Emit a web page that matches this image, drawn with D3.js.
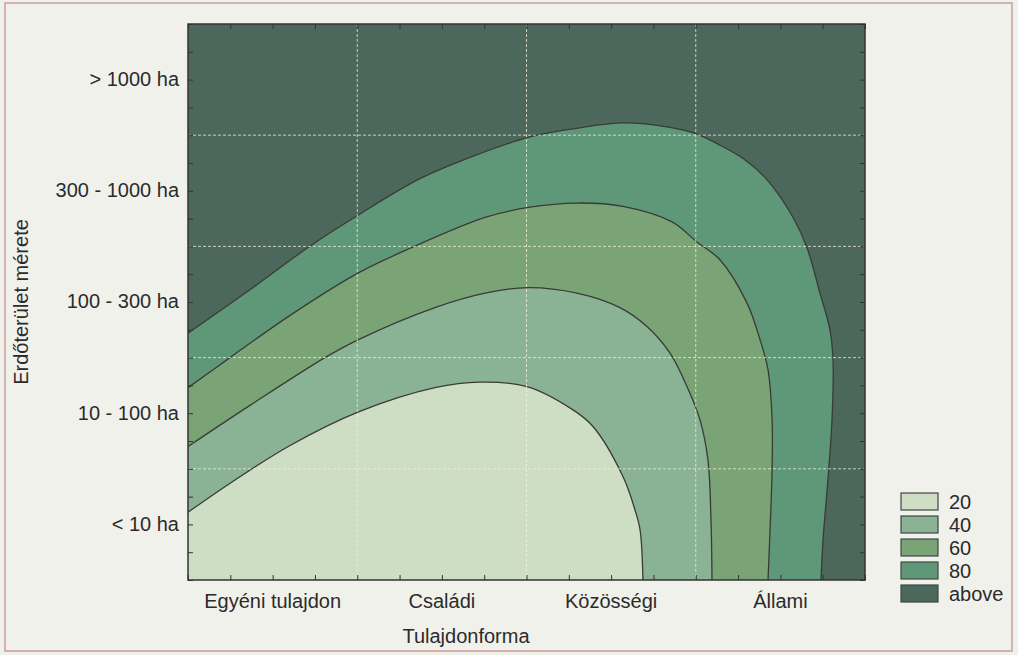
<!DOCTYPE html>
<html>
<head>
<meta charset="utf-8">
<script src="https://cdn.jsdelivr.net/npm/d3@7"></script>
<style>
  html, body { margin: 0; padding: 0; background: #f1f1ec; }
  svg { display: block; font-family: "Liberation Sans", Arial, sans-serif; }
</style>
</head>
<body>
<svg id="chart" width="1018" height="655"></svg>
<script>
// ---- data ----
const ownershipCategories = ["Egyéni tulajdon", "Családi", "Közösségi", "Állami"];
const sizeCategories = ["< 10 ha", "10 - 100 ha", "100 - 300 ha", "300 - 1000 ha", "> 1000 ha"];
const legendLabels = ["20", "40", "60", "80", "above"];
const contourLevels = [20, 40, 60, 80];

// contour lines, [ownership position (0..4), size position (0..5)]
const contour20 = [[0,0.61],[0.278,0.90],[0.603,1.21],[1.004,1.51],[1.459,1.73],[1.725,1.78],[2.003,1.74],[2.275,1.53],[2.393,1.38],[2.570,0.93],[2.641,0.63],[2.671,0.45],[2.688,0]];
const contour40 = [[0,1.20],[0.366,1.57],[0.809,2.00],[1.004,2.16],[1.459,2.45],[1.755,2.58],[2.009,2.63],[2.298,2.58],[2.552,2.45],[2.712,2.28],[2.848,2.04],[2.948,1.74],[3.025,1.44],[3.072,1.08],[3.090,0.54],[3.096,0]];
const contour60 = [[0,1.73],[0.248,2.00],[0.603,2.38],[1.004,2.76],[1.323,2.99],[1.755,3.26],[2.009,3.35],[2.298,3.39],[2.570,3.36],[2.860,3.22],[3.007,3.04],[3.143,2.88],[3.303,2.49],[3.380,2.16],[3.427,1.89],[3.451,1.44],[3.451,0.99],[3.439,0.45],[3.427,0]];
const contour80 = [[0,2.22],[0.366,2.61],[0.709,2.99],[1.004,3.28],[1.359,3.60],[1.666,3.80],[2.009,3.98],[2.287,4.06],[2.570,4.11],[2.848,4.07],[3.007,4.01],[3.143,3.91],[3.290,3.78],[3.421,3.60],[3.575,3.26],[3.657,2.99],[3.734,2.58],[3.793,2.25],[3.811,1.98],[3.805,1.44],[3.781,0.90],[3.752,0.36],[3.740,0]];

(function () {
// ---- layout ----
const svg = d3.select("#chart");
const W = 1018, H = 655;
const pL = 188, pR = 865, pT = 24, pB = 580;
const colors = ["#cddec5", "#8ab294", "#7aa376", "#5f9878", "#4c685c"];

const x = d3.scaleLinear().domain([0, 4]).range([pL, pR]);
const y = d3.scaleLinear().domain([0, 5]).range([pB, pT]);
const xBand = d3.scaleBand().domain(ownershipCategories).range([pL, pR]);
const yBand = d3.scaleBand().domain(sizeCategories).range([pB, pT]);

// page frame
svg.append("rect").attr("x", 0).attr("y", 0).attr("width", W).attr("height", H).attr("fill", "#f1f1ec");
svg.append("rect").attr("x", 5).attr("y", 3).attr("width", 1007).attr("height", 648)
  .attr("fill", "none").attr("stroke", "#c99d9d").attr("stroke-width", 1.5);

svg.append("clipPath").attr("id", "plotclip").append("rect")
  .attr("x", pL).attr("y", pT).attr("width", pR - pL).attr("height", pB - pT);

const plot = svg.append("g").attr("clip-path", "url(#plotclip)");
plot.append("rect").attr("x", pL).attr("y", pT).attr("width", pR - pL).attr("height", pB - pT)
  .attr("fill", colors[4]);

const line = d3.line().x(d => x(d[0])).y(d => y(d[1])).curve(d3.curveCatmullRom.alpha(0.5));
const contours = [contour80, contour60, contour40, contour20];
const fills = [colors[3], colors[2], colors[1], colors[0]];
contours.forEach((c, i) => {
  plot.append("path")
    .attr("d", line(c) + "L" + x(0) + "," + y(0) + "Z")
    .attr("fill", fills[i]);
});
contours.forEach(c => {
  plot.append("path").attr("d", line(c)).attr("fill", "none")
    .attr("stroke", "#3a3a36").attr("stroke-width", 1.3);
});

// grid lines at band boundaries
const gridX = d3.range(1, 4);
const gridY = d3.range(1, 5);
plot.selectAll(".gx").data(gridX).join("line")
  .attr("x1", d => x(d)).attr("x2", d => x(d)).attr("y1", pT).attr("y2", pB)
  .attr("stroke", "#f4f1d8").attr("stroke-opacity", 0.75).attr("stroke-width", 1).attr("stroke-dasharray", "3,2");
plot.selectAll(".gy").data(gridY).join("line")
  .attr("y1", d => y(d)).attr("y2", d => y(d)).attr("x1", pL).attr("x2", pR)
  .attr("stroke", "#f4f1d8").attr("stroke-opacity", 0.75).attr("stroke-width", 1).attr("stroke-dasharray", "3,2");

// minor ticks (inward) on all four sides
const tickStyle = g => { g.select(".domain").remove(); g.selectAll("line").attr("stroke", "#333").attr("stroke-width", 1); };
svg.append("g").attr("transform", `translate(0,${pB})`)
  .call(d3.axisBottom(x).tickValues(d3.range(0, 4.001, 0.25)).tickSize(-5).tickFormat("")).call(tickStyle);
svg.append("g").attr("transform", `translate(0,${pT})`)
  .call(d3.axisTop(x).tickValues(d3.range(0, 4.001, 0.25)).tickSize(-5).tickFormat("")).call(tickStyle);
svg.append("g").attr("transform", `translate(${pL},0)`)
  .call(d3.axisLeft(y).tickValues(d3.range(0, 5.001, 0.25)).tickSize(-5).tickFormat("")).call(tickStyle);
svg.append("g").attr("transform", `translate(${pR},0)`)
  .call(d3.axisRight(y).tickValues(d3.range(0, 5.001, 0.25)).tickSize(-5).tickFormat("")).call(tickStyle);

// category labels
const labStyle = g => {
  g.select(".domain").remove();
  g.selectAll("line").remove();
  g.selectAll("text").attr("fill", "#2b2b2b").attr("font-size", 20)
    .attr("font-family", "'Liberation Sans', Arial, sans-serif");
};
svg.append("g").attr("transform", `translate(0,${pB})`)
  .call(d3.axisBottom(xBand).tickSize(0).tickPadding(14)).call(labStyle);
svg.append("g").attr("transform", `translate(${pL},0)`)
  .call(d3.axisLeft(yBand).tickSize(0).tickPadding(9)).call(labStyle);

// plot frame
svg.append("rect").attr("x", pL).attr("y", pT).attr("width", pR - pL).attr("height", pB - pT)
  .attr("fill", "none").attr("stroke", "#333").attr("stroke-width", 1.5);

// axis titles
svg.append("text").attr("x", 466).attr("y", 643).attr("text-anchor", "middle")
  .attr("font-size", 20).attr("fill", "#2b2b2b").text("Tulajdonforma");
svg.append("text").attr("transform", "translate(28,302) rotate(-90)").attr("text-anchor", "middle")
  .attr("font-size", 20).attr("fill", "#2b2b2b").text("Erdőterület mérete");

// legend
const legend = svg.append("g").attr("transform", "translate(901,493)");
legendLabels.forEach((lab, i) => {
  legend.append("rect").attr("x", 0).attr("y", i * 23).attr("width", 37).attr("height", 17)
    .attr("fill", colors[i]).attr("stroke", "#444").attr("stroke-width", 1.2);
  legend.append("text").attr("x", 48).attr("y", i * 23 + 16).attr("font-size", 20)
    .attr("fill", "#2b2b2b").text(lab);
});
})();
</script>
</body>
</html>
